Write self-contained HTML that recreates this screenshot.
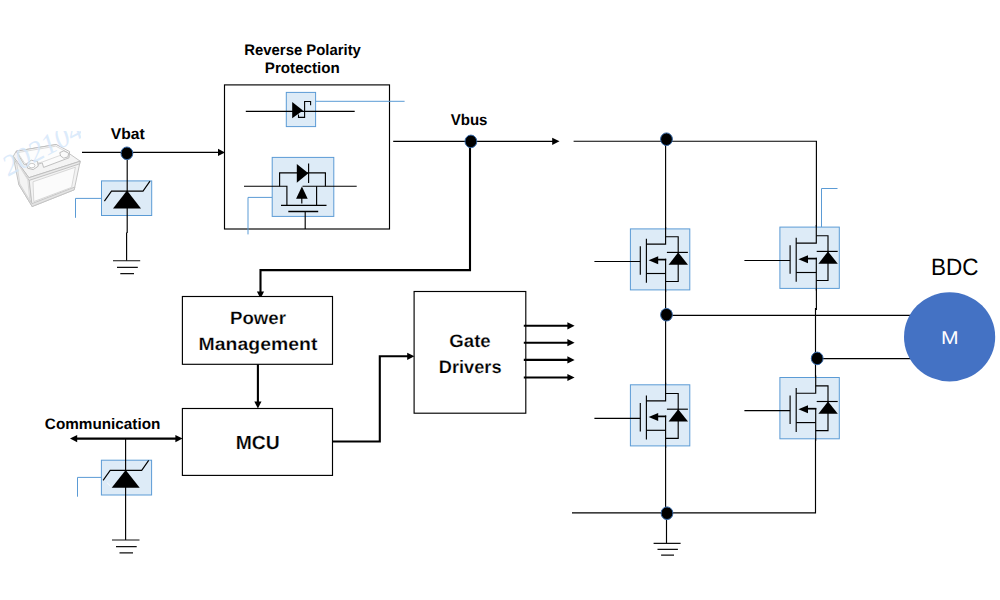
<!DOCTYPE html>
<html lang="en">
<head>
<meta charset="utf-8">
<title>BDC Motor Drive Block Diagram</title>
<style>
html,body{margin:0;padding:0;background:#fff;}
body{width:1000px;height:600px;overflow:hidden;}
svg{display:block;}
svg text{font-family:"Liberation Sans",sans-serif;text-rendering:geometricPrecision;}
</style>
</head>
<body>
<svg width="1000" height="600" viewBox="0 0 1000 600">
<rect width="1000" height="600" fill="#fff"/>
<clipPath id="wmclip"><rect x="0" y="131" width="81" height="60"/></clipPath>
<g id="battery">
<g transform="translate(1.2,1.2)" stroke="#bdbdbd" stroke-width="0.9" stroke-linejoin="round">
<path d="M12 155.2L27.7 176.5L31 205.3L17.6 183.3Z" fill="#ededed"/>
<path d="M27.7 176.5L79 160L73 188.6L31 205.3Z" fill="#f3f3f3"/>
<path d="M12 155.2L15 150L55 143.3L79 160L27.7 176.5Z" fill="#f4f4f4"/>
<path d="M12 155.2L27.7 176.5L79 160L78.5 162.6L27.9 179.2L12.2 157.6Z" fill="#e9e9e9" stroke="#bcbcbc"/>
<path d="M17.6 183.3L31 205.3L73 188.6L73.6 185.8L30.8 202.4L18 180.8Z" fill="#e3e3e3" stroke="#c2c2c2"/>
<path d="M31.8 180.6L74.2 166L70.4 186.2L32.6 200.4Z" fill="#fbfbfb" stroke="#d4d4d4"/>
<path d="M15.4 160.4L26.6 178.6L28.6 199.2L18.6 182.6Z" fill="#f4f4f4" stroke="#d8d8d8"/>
<path d="M15 150L55 143.3L68.4 150.4L67.8 156.6L42.4 166.2L41 161.6L34 164L23 163.4Z" fill="#fbfbfb" stroke="#b9b9b9"/>
<path d="M16.4 151.4L54.6 145L66.6 151.4L41.6 160.6L33 163L23.6 162.2Z" fill="#fdfdfd" stroke="#cdcdcd" stroke-width="0.7"/>
<path d="M25.4 162.6L30 159L36.4 160.4L37 165L32 168.4L26.4 167Z" fill="#fafafa" stroke="#b5b5b5"/>
<ellipse cx="30.6" cy="164.4" rx="3.2" ry="2.2" fill="#fff" stroke="#bdbdbd" stroke-width="0.8"/>
<path d="M58.6 151.4L62.6 149.6L67.4 152L66.8 155.6L62.6 157L59.4 154.8Z" fill="#fafafa" stroke="#b5b5b5"/>
</g>
<g clip-path="url(#wmclip)"><text transform="translate(8.5,176.5) rotate(-28)" style="font-family:'Liberation Serif',serif;font-style:italic" font-size="29" fill="#d3e6fa" fill-opacity="0.8">202104</text></g>
</g>
<path d="M82 152.4H219" stroke="#000" stroke-width="1.15" fill="none"/>
<path d="M225 152.4L218 148.70000000000002V156.1Z" fill="#000"/>
<path d="M101.5 198.4H75.5V217.8" stroke="#5B9BD5" stroke-width="1" fill="none"/>
<g transform="translate(0.10,-0.10)">
<rect x="101.4" y="181.0" width="50.2" height="34.6" fill="#DDEBF7" stroke="#5B9BD5" stroke-width="1"/>
<g transform="translate(-0.1,0.2)">
<path d="M104.4 201L111.5 191H143L150 181" fill="none" stroke="#000" stroke-width="1.15"/>
<path d="M127 190.5L141 208.4H113Z" fill="#000"/>
</g>
</g>
<path d="M127.2 152V233M126.6 232.5V260.7" stroke="#000" stroke-width="1.15" fill="none"/>
<ellipse cx="126.9" cy="153.3" rx="5.9" ry="6.3" fill="#000" stroke="#3568A8" stroke-width="1"/>
<path d="M113 260.7H140.2M117 267.3H137.8M120.3 273.6H134" fill="none" stroke="#111" stroke-width="1.15"/>
<rect x="224.5" y="84.9" width="165" height="144.1" fill="#fff" stroke="#000" stroke-width="1.15"/>
<path d="M315.5 101.3H404.6" stroke="#5B9BD5" stroke-width="1" fill="none"/>
<rect x="286.3" y="92.4" width="29.3" height="34.2" fill="#DDEBF7" stroke="#5B9BD5" stroke-width="1"/>
<path d="M245.8 111.3H354.7" stroke="#000" stroke-width="1.15" fill="none"/>
<path d="M292.2 102L303 110.6L292.2 118.2Z" fill="#000"/>
<path d="M298.5 114.6V117.4H304.6V101.5H310.6V105.2" stroke="#000" stroke-width="1.1" fill="none"/>
<path d="M272.2 197.4H248V234.4" stroke="#5B9BD5" stroke-width="1" fill="none"/>
<rect x="272.2" y="157.4" width="61.6" height="59" fill="#DDEBF7" stroke="#5B9BD5" stroke-width="1"/>
<g stroke="#000" stroke-width="1.15" fill="none"><path d="M244 186.2H286.9V205.4"/><path d="M356.7 186.2H302.5"/><path d="M316.6 186.2V205.4"/><path d="M281 205.4H326.5"/><path d="M288.3 211.5H318.2" stroke-width="1.5"/><path d="M305.2 211.5V229"/><path d="M279.6 186.2V172.8H325.4V186.2"/><path d="M308.6 163.5V183"/><path d="M301.8 198V203.5"/></g>
<path d="M296.8 164L308.4 173.2L296.8 182.8Z" fill="#000"/>
<path d="M301.9 186.4L307.7 198.8H296.1Z" fill="#000"/>
<path d="M393.2 141.3H554" stroke="#000" stroke-width="1.15" fill="none"/>
<path d="M559.5 141.3L552.2 137.70000000000002V144.9Z" fill="#000"/>
<path d="M470.0 141V270.1H260.5V292" stroke="#000" stroke-width="2.1" fill="none"/>
<path d="M260.5 298.6L256.9 291.6H264.1Z" fill="#000"/>
<ellipse cx="470.9" cy="141.4" rx="5.9" ry="6.3" fill="#000" stroke="#3568A8" stroke-width="1"/>
<rect x="182.4" y="296.5" width="150.1" height="67.8" fill="#fff" stroke="#000" stroke-width="1.15"/>
<rect x="182.4" y="408.5" width="150.1" height="66.9" fill="#fff" stroke="#000" stroke-width="1.15"/>
<rect x="414.1" y="291.5" width="111.7" height="121.7" fill="#fff" stroke="#000" stroke-width="1.15"/>
<path d="M257.9 364.3V403" stroke="#000" stroke-width="2.1" fill="none"/>
<path d="M257.9 408.5L254.29999999999998 401.5H261.5Z" fill="#000"/>
<path d="M332.5 441.5H379.8V356.3H409" stroke="#000" stroke-width="2.1" fill="none"/>
<path d="M414.4 356.3L407.2 352.7V359.90000000000003Z" fill="#000"/>
<path d="M523.8 325.8H569" stroke="#000" stroke-width="2.1" fill="none"/>
<path d="M574.6 325.8L567.4 322.2V329.40000000000003Z" fill="#000"/>
<path d="M523.8 342.7H569" stroke="#000" stroke-width="2.1" fill="none"/>
<path d="M574.6 342.7L567.4 339.09999999999997V346.3Z" fill="#000"/>
<path d="M523.8 359.9H569" stroke="#000" stroke-width="2.1" fill="none"/>
<path d="M574.6 359.9L567.4 356.29999999999995V363.5Z" fill="#000"/>
<path d="M523.8 377.5H569" stroke="#000" stroke-width="2.1" fill="none"/>
<path d="M574.6 377.5L567.4 373.9V381.1Z" fill="#000"/>
<path d="M76 438.6H177" stroke="#000" stroke-width="2.1" fill="none"/>
<path d="M70 438.6L77.2 435.0V442.20000000000005Z" fill="#000"/>
<path d="M182.6 438.6L175.4 435.0V442.20000000000005Z" fill="#000"/>
<path d="M101.4 477.4H77.5V496.7" stroke="#5B9BD5" stroke-width="1" fill="none"/>
<g transform="translate(0.00,279.20)">
<rect x="101.4" y="181.0" width="50.2" height="34.8" fill="#DDEBF7" stroke="#5B9BD5" stroke-width="1"/>
<g transform="translate(-1.3,0.2)">
<path d="M104.4 201L111.5 191H143L150 181" fill="none" stroke="#000" stroke-width="1.15"/>
<path d="M127 190.5L141 208.4H113Z" fill="#000"/>
</g>
</g>
<path d="M107.2 482.9L110.6 486.2" stroke="#fff" stroke-width="0.8" fill="none"/>
<path d="M125.6 439V540" stroke="#000" stroke-width="1.15" fill="none"/>
<path d="M112 540H139.5M116 546.6H136.7M119.5 552.9H133" fill="none" stroke="#111" stroke-width="1.15"/>
<path d="M573.6 141.2H816.4V310M815.5 308V512.8H572" stroke="#000" stroke-width="1.15" fill="none"/>
<path d="M665.6 141V513M666.5 513V543.4" stroke="#000" stroke-width="1.15" fill="none"/>
<path d="M666 315.3H912M817 358.6H912" stroke="#000" stroke-width="1.15" fill="none"/>
<path d="M821.5 227V188.5H837.5" stroke="#5B9BD5" stroke-width="1" fill="none"/>
<g transform="translate(0.00,0.00)">
<rect x="630.4" y="228.9" width="59.4" height="61" fill="#DDEBF7" stroke="#5B9BD5" stroke-width="1"/>
<g transform="translate(0,0)">
<g fill="none" stroke="#000" stroke-width="1.15">
<path d="M594.40 261.5H640.3"/>
<path d="M640.3 246.3V274.8"/>
<path d="M646.4 238.8V282.8"/>
<path d="M646.4 244.1H665.6V226.9"/>
<path d="M646.4 273.5H665.6"/>
<path d="M665.6 236.7H678.2V281.5H665.6"/>
<path d="M666.9 252.4H687.9"/>
<path d="M657 259.6H666.2" stroke-width="1.7"/>
<path d="M665.6 258.8V291.9"/>
</g>
<path d="M648.6 260.2L658.2 256.2V264.2Z" fill="#000"/>
<path d="M678.2 252.4L688 264.7H668.6Z" fill="#000"/>
</g>
</g>
<g transform="translate(149.50,-1.80)">
<rect x="630.4" y="228.9" width="59.4" height="61.3" fill="#DDEBF7" stroke="#5B9BD5" stroke-width="1"/>
<g transform="translate(0.3,0.8)">
<g fill="none" stroke="#000" stroke-width="1.15">
<path d="M594.60 261.5H640.3"/>
<path d="M640.3 246.3V274.8"/>
<path d="M646.4 238.8V282.8"/>
<path d="M646.4 244.1H666.5V226.1"/>
<path d="M646.4 273.5H666.5"/>
<path d="M666.5 236.7H678.2V281.5H666.5"/>
<path d="M666.9 252.4H687.9"/>
<path d="M657 259.6H667.1" stroke-width="1.7"/>
<path d="M666.5 258.8V291.4"/>
</g>
<path d="M648.6 260.2L658.2 256.2V264.2Z" fill="#000"/>
<path d="M678.2 252.4L688 264.7H668.6Z" fill="#000"/>
</g>
</g>
<g transform="translate(0.00,155.90)">
<rect x="630.4" y="228.9" width="59.4" height="61.1" fill="#DDEBF7" stroke="#5B9BD5" stroke-width="1"/>
<g transform="translate(0,0.9)">
<g fill="none" stroke="#000" stroke-width="1.15">
<path d="M594.40 261.5H640.3"/>
<path d="M640.3 246.3V274.8"/>
<path d="M646.4 238.8V282.8"/>
<path d="M646.4 244.1H665.6V226.0"/>
<path d="M646.4 273.5H665.6"/>
<path d="M665.6 236.7H678.2V281.5H665.6"/>
<path d="M666.9 252.4H687.9"/>
<path d="M657 259.6H666.2" stroke-width="1.7"/>
<path d="M665.6 258.8V291.1"/>
</g>
<path d="M648.6 260.2L658.2 256.2V264.2Z" fill="#000"/>
<path d="M678.2 252.4L688 264.7H668.6Z" fill="#000"/>
</g>
</g>
<g transform="translate(149.50,148.60)">
<rect x="630.4" y="228.9" width="59.4" height="61.3" fill="#DDEBF7" stroke="#5B9BD5" stroke-width="1"/>
<g transform="translate(0.3,0.5)">
<g fill="none" stroke="#000" stroke-width="1.15">
<path d="M594.60 261.5H640.3"/>
<path d="M640.3 246.3V274.8"/>
<path d="M646.4 238.8V282.8"/>
<path d="M646.4 244.1H665.9V226.4"/>
<path d="M646.4 273.5H665.9"/>
<path d="M665.9 236.7H678.2V281.5H665.9"/>
<path d="M666.9 252.4H687.9"/>
<path d="M657 259.6H666.5" stroke-width="1.7"/>
<path d="M665.9 258.8V291.7"/>
</g>
<path d="M648.6 260.2L658.2 256.2V264.2Z" fill="#000"/>
<path d="M678.2 252.4L688 264.7H668.6Z" fill="#000"/>
</g>
</g>
<ellipse cx="666.5" cy="139.2" rx="5.9" ry="6.3" fill="#000" stroke="#3568A8" stroke-width="1"/>
<ellipse cx="666.5" cy="314.7" rx="5.9" ry="6.3" fill="#000" stroke="#3568A8" stroke-width="1"/>
<ellipse cx="817.2" cy="358.4" rx="5.9" ry="6.3" fill="#000" stroke="#3568A8" stroke-width="1"/>
<ellipse cx="667" cy="513.2" rx="5.9" ry="6.3" fill="#000" stroke="#3568A8" stroke-width="1"/>
<path d="M653.6 543.4H680.6M657.5 549.4H677.9M661.1 555.1H674" fill="none" stroke="#111" stroke-width="1.15"/>
<ellipse cx="949.6" cy="336.9" rx="45.6" ry="44.6" fill="#4472C4"/>
<text x="302.6" y="55.1" font-size="15.2" font-weight="bold" fill="#000" text-anchor="middle" textLength="116.6" lengthAdjust="spacingAndGlyphs">Reverse Polarity</text>
<text x="302.3" y="72.6" font-size="15.2" font-weight="bold" fill="#000" text-anchor="middle" textLength="75" lengthAdjust="spacingAndGlyphs">Protection</text>
<text x="127.8" y="138.5" font-size="15.5" font-weight="bold" fill="#000" text-anchor="middle" textLength="34" lengthAdjust="spacingAndGlyphs">Vbat</text>
<text x="469.1" y="125.2" font-size="15.5" font-weight="bold" fill="#000" text-anchor="middle" textLength="36.8" lengthAdjust="spacingAndGlyphs">Vbus</text>
<text x="102.6" y="428.6" font-size="15.2" font-weight="bold" fill="#000" text-anchor="middle" textLength="115.5" lengthAdjust="spacingAndGlyphs">Communication</text>
<text x="258" y="324.2" font-size="17.9" font-weight="bold" fill="#000" text-anchor="middle" textLength="56" lengthAdjust="spacingAndGlyphs" stroke="#fff" stroke-width="0.22">Power</text>
<text x="258" y="349.8" font-size="17.9" font-weight="bold" fill="#000" text-anchor="middle" textLength="118.8" lengthAdjust="spacingAndGlyphs" stroke="#fff" stroke-width="0.22">Management</text>
<text x="257.7" y="448.7" font-size="18.9" font-weight="bold" fill="#000" text-anchor="middle" textLength="44" lengthAdjust="spacingAndGlyphs" stroke="#fff" stroke-width="0.22">MCU</text>
<text x="470" y="346.5" font-size="18" font-weight="bold" fill="#000" text-anchor="middle" textLength="41.4" lengthAdjust="spacingAndGlyphs" stroke="#fff" stroke-width="0.22">Gate</text>
<text x="470.2" y="372.6" font-size="18" font-weight="bold" fill="#000" text-anchor="middle" textLength="62.7" lengthAdjust="spacingAndGlyphs" stroke="#fff" stroke-width="0.22">Drivers</text>
<text x="954.7" y="274.9" font-size="23.8" font-weight="normal" fill="#000" text-anchor="middle" textLength="47.5" lengthAdjust="spacingAndGlyphs">BDC</text>
<text x="949.7" y="343.6" font-size="18.5" font-weight="normal" fill="#fff" text-anchor="middle" textLength="17.6" lengthAdjust="spacingAndGlyphs">M</text>
</svg>
</body>
</html>
